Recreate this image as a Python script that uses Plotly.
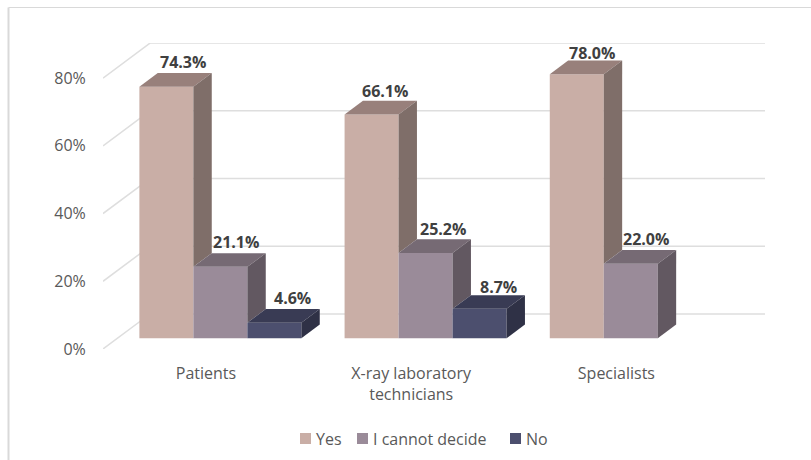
import plotly.graph_objects as go

# Survey shares (%) per respondent group
categories = ["Patients", "X-ray laboratory<br>technicians", "Specialists"]
series_names = ["Yes", "I cannot decide", "No"]
yes_values = [74.3, 66.1, 78.0]
undecided_values = [21.1, 25.2, 22.0]
no_values = [4.6, 8.7, None]
value_ticks = [0, 20, 40, 60, 80]

series_values = [yes_values, undecided_values, no_values]
front_colors = ["#C9AEA6", "#9A8B99", "#4C4F6E"]
side_colors = ["#7F6E69", "#625861", "#2F3146"]
top_colors = ["#98807B", "#766A74", "#393B54"]
GRID = "#DEDEDE"
FONT = "Open Sans"
FONT_SIZE = 16

# Canvas layout of the plot area (pixels)
W, H = 811, 460
LEFT, RIGHT, TOP, BOTTOM = 103, 765, 43, 349
PX_PER_GROUP = 205.2
PX_PER_PCT = 3.386
X_ZERO_PX = 206

# Oblique projection: full floor depth, expressed in axis units
DEPTH_X = 47 / PX_PER_GROUP
DEPTH_Y = 35 / PX_PER_PCT
BAR_DEPTH_START = 0.306
BAR_DEPTH_END = 0.697
BAR_WIDTH = 54 / PX_PER_GROUP


def project(x, value, depth):
    return x + depth * DEPTH_X, value + depth * DEPTH_Y


fig = go.Figure()

# Grid drawn below the bars: side wall diagonal plus back wall horizontal
shapes = []
for tick in value_ticks:
    bx, by = project((LEFT - X_ZERO_PX) / PX_PER_GROUP, tick, 1)
    fx, fy = project((LEFT - X_ZERO_PX) / PX_PER_GROUP, tick, 0)
    ex = (RIGHT - X_ZERO_PX) / PX_PER_GROUP
    for a, b, c, d in [(fx, fy, bx, by), (bx, by, ex, by)]:
        shapes.append(dict(type="line", xref="x", yref="y", x0=a, y0=b, x1=c, y1=d,
                           layer="below", line=dict(color=GRID, width=1.5)))

# Chart frame: only the top and left edges are visible
shapes.append(dict(type="line", xref="paper", yref="paper",
                   x0=(8.5 - LEFT) / (RIGHT - LEFT), x1=(811 - LEFT) / (RIGHT - LEFT),
                   y0=1 + (TOP - 7.5) / (BOTTOM - TOP), y1=1 + (TOP - 7.5) / (BOTTOM - TOP),
                   line=dict(color="#D9D9D9", width=1)))
shapes.append(dict(type="line", xref="paper", yref="paper",
                   x0=(8.5 - LEFT) / (RIGHT - LEFT), x1=(8.5 - LEFT) / (RIGHT - LEFT),
                   y0=(BOTTOM - 460) / (BOTTOM - TOP), y1=1 + (TOP - 7.5) / (BOTTOM - TOP),
                   line=dict(color="#D9D9D9", width=2)))

lift_front = BAR_DEPTH_START * DEPTH_Y
positions = range(len(categories))

for s, (name, values) in enumerate(zip(series_names, series_values)):
    xs = [g + BAR_DEPTH_START * DEPTH_X + (s - 1) * BAR_WIDTH for g in positions]
    fig.add_trace(go.Bar(x=xs, y=values, base=lift_front, width=BAR_WIDTH, name=name,
                         marker=dict(color=front_colors[s], line=dict(width=0)),
                         showlegend=False, hoverinfo="skip"))

# Top and side faces of every bar
for s, values in enumerate(series_values):
    for g, value in zip(positions, values):
        if value is None:
            continue
        left = g + BAR_DEPTH_START * DEPTH_X + (s - 0.5 - 1) * BAR_WIDTH
        right = left + BAR_WIDTH
        dx = (BAR_DEPTH_END - BAR_DEPTH_START) * DEPTH_X
        dy = (BAR_DEPTH_END - BAR_DEPTH_START) * DEPTH_Y
        top = value + lift_front
        # The side only shows above the next bar in the group
        neighbour = series_values[s + 1][g] if s + 1 < len(series_values) else None
        floor = (neighbour or 0) + lift_front
        fig.add_trace(go.Scatter(
            x=[left, right, right + dx, left + dx, left],
            y=[top, top, top + dy, top + dy, top],
            mode="lines", fill="toself", fillcolor=top_colors[s],
            line=dict(width=0), showlegend=False, hoverinfo="skip"))
        fig.add_trace(go.Scatter(
            x=[right, right + dx, right + dx, right, right],
            y=[top, top + dy, floor + dy, floor, top],
            mode="lines", fill="toself", fillcolor=side_colors[s],
            line=dict(width=0), showlegend=False, hoverinfo="skip"))

# Fine placement of each value label, in pixels
label_shift_x = [[7, 4, 6], [6, 8, 6], [9, 10, 0]]
label_shift_y = [[11, 10, 8], [11, 10, 11], [11, 8.5, 0]]
annotations = []
for s, values in enumerate(series_values):
    for g, value in zip(positions, values):
        if value is None:
            continue
        center = g + BAR_DEPTH_START * DEPTH_X + (s - 1) * BAR_WIDTH
        ax, ay = center + (BAR_DEPTH_END - BAR_DEPTH_START) * DEPTH_X / 2, \
            value + BAR_DEPTH_END * DEPTH_Y
        annotations.append(dict(x=ax, y=ay, xref="x", yref="y", text=f"{value:.1f}%",
                                showarrow=False, xanchor="center", yanchor="middle",
                                xshift=label_shift_x[s][g], yshift=label_shift_y[s][g],
                                font=dict(family=FONT, size=FONT_SIZE, color="#404040",
                                          weight="bold")))

# Legend row along the bottom
legend_swatch_px = [300, 357, 510]
for name, color, px in zip(series_names, front_colors, legend_swatch_px):
    to_x = lambda p: (p - LEFT) / (RIGHT - LEFT)
    to_y = lambda p: (BOTTOM - p) / (BOTTOM - TOP)
    shapes.append(dict(type="rect", xref="paper", yref="paper",
                       x0=to_x(px), x1=to_x(px + 11), y0=to_y(444), y1=to_y(433),
                       fillcolor=color, line=dict(width=0)))
    annotations.append(dict(x=to_x(px + 14), y=to_y(439), xref="paper", yref="paper",
                            text=name, showarrow=False, xanchor="left", yanchor="middle",
                            font=dict(family=FONT, size=FONT_SIZE, color="#595959")))

fig.update_layout(
    width=W, height=H, barmode="overlay", showlegend=False,
    margin=dict(l=LEFT, r=W - RIGHT, t=TOP, b=H - BOTTOM, pad=0),
    paper_bgcolor="white", plot_bgcolor="white",
    font=dict(family=FONT, size=FONT_SIZE, color="#595959"),
    shapes=shapes, annotations=annotations,
    xaxis=dict(range=[(LEFT - X_ZERO_PX) / PX_PER_GROUP, (RIGHT - X_ZERO_PX) / PX_PER_GROUP],
               tickmode="array", tickvals=list(positions), ticktext=categories,
               showgrid=False, zeroline=False, showline=False,
               ticks="outside", ticklen=10, tickcolor="rgba(0,0,0,0)"),
    yaxis=dict(range=[0, (BOTTOM - TOP) / PX_PER_PCT],
               tickmode="array", tickvals=value_ticks, ticktext=[f"{t}%" for t in value_ticks],
               showgrid=False, zeroline=False, showline=False,
               ticks="outside", ticklen=13, tickcolor="rgba(0,0,0,0)"),
)

fig.write_html("out.html", config={"displayModeBar": False})
